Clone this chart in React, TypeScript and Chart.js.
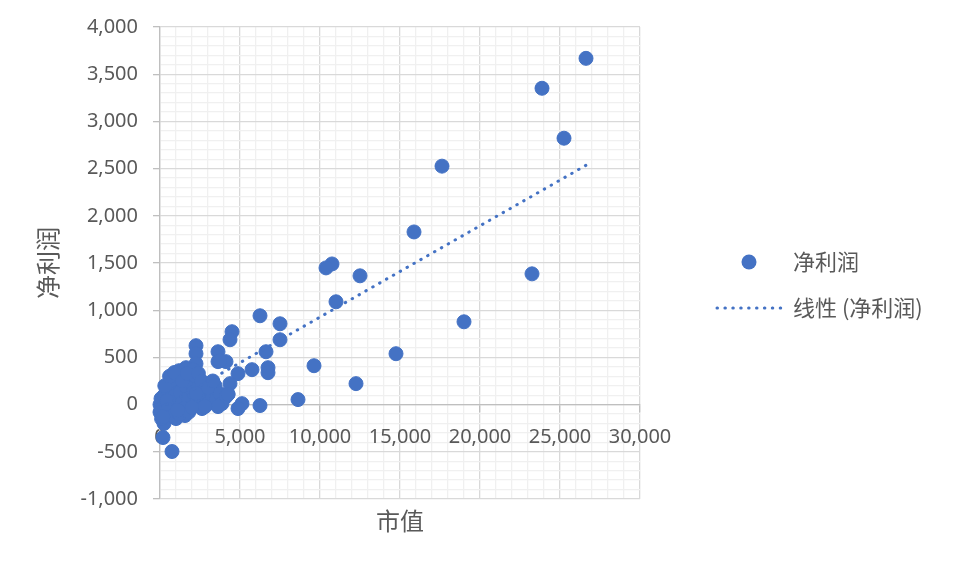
import React, { useEffect, useRef } from "react";
import { Chart, registerables } from "chart.js";

Chart.register(...registerables);

const seriesName = "净利润";
const trendName = "线性 (净利润)";
const xTitle = "市值";
const yTitle = "净利润";

// 市值 (x) and 净利润 (y)
const marketCap = [
  26625, 23875, 25250, 17625, 23250, 15875, 19000, 14750, 12250, 12500,
  10750, 10375, 11000, 9625, 8625, 7500, 7500, 6625, 6750, 6750,
  6250, 5750, 6250, 4875, 5125, 4875, 4500, 4375, 4125, 3625,
  3625, 4375, 2250, 2250, 2250, 750, 188, 250, 4250, 3750,
  0, 63, 63, 250, 313, 375, 500, 625, 625, 813,
  938, 1000, 1125, 1250, 1375, 1375, 1500, 1625, 1750, 1875,
  2000, 2063, 2188, 2250, 2375, 2500, 2625, 2750, 2875, 3000,
  3125, 3250, 3438, 3500, 3750, 3875, 4125, 3625, 1000, 1563,
  688, 1188, 1625, 2063, 4250, 125, 438, 1500, 2250, 2813,
  0, 100, 500, 800, 1200, 1800, 2000, 300, 600, 900,
  1400, 1700, 2400, 2600, 3000, 3300, 200, 1100,
];
const netProfit = [
  3668, 3351, 2822, 2526, 1385, 1829, 877, 539, 222, 1364,
  1490, 1448, 1089, 412, 53, 856, 687, 560, 391, 338,
  941, 370, -10, 328, 10, -42, 772, 687, 455, 560,
  455, 222, 624, 539, 433, -497, -349, -200, 110, 465,
  0, 63, -63, 95, -11, -106, 148, 42, -63, 201,
  95, -21, 254, 127, 21, -85, 307, 190, 63, 338,
  222, 127, 0, 296, 169, 63, -42, 201, 95, 11,
  148, 63, 201, 42, 116, 11, 85, -21, -148, -116,
  254, 359, 391, 370, 110, -40, 40, -40, 120, -20,
  -80, -150, -50, -120, -100, -80, -30, 200, 300, 340,
  250, 330, 330, 250, 180, 250, -130, -60,
];

// linear trend line end points (x, y)
const trendX = [0, 26625];
const trendY = [-40, 2535];

const xTicksMin = 0;
const xTicksMax = 30000;
const yTicksMin = -1000;
const yTicksMax = 4000;

const BLUE = "#4472C4";
const TEXT = "#595959";
const NUM_FONT = "'Noto Sans', 'Noto Sans CJK SC', sans-serif";
const CJK_FONT = "'Noto Sans CJK SC', 'Noto Sans', sans-serif";

const fmt = (v: number) => Math.round(v).toLocaleString("en-US");
const xLabel = (v: any) => (Math.round(v) % 5000 === 0 ? fmt(v) : "");

export default function App() {
  const ref = useRef<HTMLCanvasElement | null>(null);

  useEffect(() => {
    document.body.style.margin = "0";
    const canvas = ref.current;
    if (!canvas) return;

    const points = marketCap.map((x, i) => ({ x, y: netProfit[i] }));
    const trend = trendX.map((x, i) => ({ x, y: trendY[i] }));

    const overlay = {
      id: "overlay",
      afterDraw(chart: any) {
        const ctx = chart.ctx as CanvasRenderingContext2D;
        const ca = chart.chartArea;
        ctx.save();
        ctx.fillStyle = TEXT;
        // axis titles
        ctx.font = `24px ${CJK_FONT}`;
        ctx.textAlign = "center";
        ctx.textBaseline = "middle";
        ctx.fillText(xTitle, (ca.left + ca.right) / 2, 521);
        ctx.save();
        ctx.translate(48, (ca.top + ca.bottom) / 2);
        ctx.rotate(-Math.PI / 2);
        ctx.fillText(yTitle, 0, 0);
        ctx.restore();

        // legend
        ctx.fillStyle = BLUE;
        ctx.beginPath();
        ctx.arc(749, 262, 7.5, 0, Math.PI * 2);
        ctx.fill();
        ctx.strokeStyle = BLUE;
        ctx.lineWidth = 3;
        ctx.lineCap = "round";
        ctx.setLineDash([0.5, 7.4]);
        ctx.beginPath();
        ctx.moveTo(717, 308);
        ctx.lineTo(782, 308);
        ctx.stroke();
        ctx.setLineDash([]);
        ctx.fillStyle = TEXT;
        ctx.font = `22px ${CJK_FONT}`;
        ctx.textAlign = "left";
        ctx.fillText(seriesName, 793, 262);
        ctx.fillText(trendName, 793, 308);
        ctx.restore();
      },
    };

    const chart = new Chart(canvas, {
      type: "scatter",
      data: {
        datasets: [
          {
            label: trendName,
            data: trend,
            showLine: true,
            borderColor: BLUE,
            borderWidth: 3,
            borderDash: [0.5, 7.4],
            borderCapStyle: "round",
            pointRadius: 0,
            pointHoverRadius: 0,
            fill: false,
            order: 0,
          } as any,
          {
            label: seriesName,
            data: points,
            backgroundColor: BLUE,
            borderColor: BLUE,
            borderWidth: 1,
            pointRadius: 7,
            clip: false,
            order: 1,
          } as any,
        ],
      },
      plugins: [overlay],
      options: {
        animation: false,
        responsive: false,
        devicePixelRatio: 1,
        events: [],
        layout: { padding: { left: 0, top: 26, right: 314, bottom: 68 } },
        plugins: {
          legend: { display: false },
          tooltip: { enabled: false },
        },
        scales: {
          x: {
            type: "linear",
            position: { y: 0 } as any,
            min: xTicksMin,
            max: xTicksMax,
            ticks: {
              display: false,
              stepSize: 1000,
              autoSkip: false,
              maxRotation: 0,
              padding: 14,
              color: TEXT,
              font: { size: 20, family: NUM_FONT },
              callback: xLabel,
            },
            grid: {
              drawTicks: true,
              tickLength: 7,
              lineWidth: 1.3,
              color: (c: any) =>
                Math.round(c.tick?.value ?? 0) % 5000 === 0 ? "#d9d9d9" : "#f0f0f0",
              tickColor: (c: any) =>
                Math.round(c.tick?.value ?? 0) % 5000 === 0 ? "#bfbfbf" : "rgba(0,0,0,0)",
            },
            border: { display: true, color: "#bfbfbf", width: 1.3 },
          },
          xLabels: {
            type: "linear",
            axis: "x",
            position: { y: 0 } as any,
            z: 1,
            min: xTicksMin,
            max: xTicksMax,
            ticks: {
              stepSize: 1000,
              autoSkip: false,
              maxRotation: 0,
              padding: 14,
              color: TEXT,
              font: { size: 20, family: NUM_FONT },
              callback: xLabel,
            },
            grid: { display: false, drawTicks: true, tickLength: 7 },
            border: { display: false },
          } as any,
          y: {
            type: "linear",
            position: "left",
            min: yTicksMin,
            max: yTicksMax,
            afterFit: (scale: any) => {
              scale.width = 160;
            },
            ticks: {
              stepSize: 100,
              autoSkip: false,
              padding: 15,
              color: TEXT,
              font: { size: 20, family: NUM_FONT },
              callback: (v: any) => (Math.round(v) % 500 === 0 ? fmt(v) : ""),
            },
            grid: {
              drawTicks: true,
              tickLength: 7,
              lineWidth: 1.3,
              color: (c: any) =>
                Math.round(c.tick?.value ?? 0) % 500 === 0 ? "#d9d9d9" : "#f0f0f0",
              tickColor: (c: any) =>
                Math.round(c.tick?.value ?? 0) % 500 === 0 ? "#bfbfbf" : "rgba(0,0,0,0)",
            },
            border: { display: true, color: "#bfbfbf", width: 1.3 },
          },
        },
      },
    });

    return () => chart.destroy();
  }, []);

  return (
    <div style={{ position: "fixed", left: 0, top: 0, width: 954, height: 567, background: "#fff" }}>
      <canvas ref={ref} width={954} height={567} style={{ width: 954, height: 567 }} />
    </div>
  );
}
